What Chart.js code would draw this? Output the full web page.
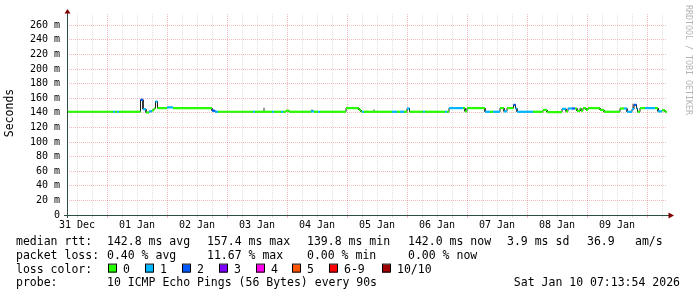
<!DOCTYPE html>
<html>
<head>
<meta charset="utf-8">
<script src="https://cdn.jsdelivr.net/npm/chart.js@4/dist/chart.umd.min.js"></script>
<style>
  html, body { margin: 0; padding: 0; background: #fff; }
  canvas { display: block; }
</style>
</head>
<body>
<canvas id="pingChart" width="697" height="297"></canvas>
<script>
// Smokeping style latency graph, x axis in hours since 31 Dec 08:00

const dayLabels = ['31 Dec', '01 Jan', '02 Jan', '03 Jan', '04 Jan', '05 Jan', '06 Jan', '07 Jan', '08 Jan', '09 Jan'];
const yTickValues = [0, 10, 20, 30, 40, 50, 60, 70, 80, 90, 100, 110, 120, 130, 140, 150, 160, 170, 180, 190, 200, 210, 220, 230, 240, 250, 260, 270];

// median rtt steps: hour where value starts, value (ms), lost pings out of 10
const stepHours = [0, 18.4, 19.2, 20, 20.8, 29.4, 30.4, 31.6, 32.8, 34, 34.8, 35.4, 36.2, 40, 42.4, 58, 59.2, 60.4, 74.4, 75.2,
  82, 82.8, 85.6, 86.4, 87.6, 88.8, 97.6, 98.8, 100.4, 101.2, 111.6, 116.8, 117.6, 118, 118.8, 130, 132, 133.2, 134.8, 136,
  137, 142.4, 143.2, 151.2, 152, 152.8, 158.4, 159.2, 160, 167.2, 169.2, 170.4, 173.2, 174.8, 176, 178.6, 179.4, 180, 186.4, 190.4,
  192, 198, 199.6, 200.4, 202, 203.2, 204, 205.2, 205.6, 206.4, 207.6, 208.4, 213.2, 214.8, 221.2, 222.8, 224, 226, 226.8, 227.8,
  228.2, 229.2, 231.2, 235.2, 236.4, 238, 239.2];
const medianMs = [141.5, 141.5, 141.5, 141.5, 141.5, 158, 145, 140.5, 142, 143.5, 146, 155.5, 146.5, 147.5, 146.5, 143, 141.5, 141.5, 141.5, 141.5,
  141.5, 141.5, 141.5, 141.5, 143, 141.5, 142, 141.5, 141.5, 141.5, 146.5, 144, 141.5, 141.5, 141.5, 141.5, 141.5, 141.5, 141.5, 146,
  141.5, 141.5, 141.5, 141.5, 141.5, 146.5, 146.5, 142, 146.5, 141.5, 141.5, 141.5, 146.5, 142, 146.5, 151, 146, 141.5, 141.5, 144,
  141, 145.5, 142, 146, 146, 146, 142.5, 146, 143, 146.5, 144, 146.5, 144, 141.5, 146, 146, 141.5, 145, 151, 146,
  141.5, 146.5, 146.5, 146.5, 142, 143.5, 141.5];
const lossCount = [0, 1, 0, 1, 0, 2, 1, 0, 1, 0, 0, 1, 0, 1, 0, 2, 1, 0, 1, 0,
  1, 0, 1, 0, 0, 0, 1, 0, 1, 0, 0, 0, 0, 1, 0, 1, 0, 1, 0, 1,
  0, 1, 0, 1, 0, 1, 0, 0, 0, 1, 0, 1, 0, 1, 0, 2, 1, 1, 0, 0,
  0, 1, 0, 1, 2, 0, 0, 0, 0, 0, 0, 0, 0, 0, 0, 1, 1, 1, 2, 1,
  0, 0, 1, 0, 1, 0, 0];
const endHour = 240;

// smoke (spread of the pings) where it shows
const smokeHours = [78.8, 98, 122.8, 226.4];
const smokeLow = [141.5, 142, 141.5, 144];
const smokeHigh = [147, 144.5, 144.5, 152.5];

const lossLabels = ['0', '1', '2', '3', '4', '5', '6-9', '10/10'];
const lossColors = ['#26ff00', '#00b8ff', '#0059ff', '#7e00ff', '#ff00ea', '#ff5500', '#ff0000', '#a10000'];

const rttStats = ['142.8 ms avg', '157.4 ms max', '139.8 ms min', '142.0 ms now', '3.9 ms sd', '36.9', 'am/s'];
const lossStats = ['0.40 % avg', '11.67 % max', '0.00 % min', '0.00 % now'];
const probeText = '10 ICMP Echo Pings (56 Bytes) every 90s';
const stampText = 'Sat Jan 10 07:13:54 2026';

const MONO = "'DejaVu Sans Mono', monospace";
const minorGrid = 'rgba(150,150,150,0.3)';
const majorGrid = 'rgba(220,50,50,0.33)';

function isMidnight(h) { return ((h - 16) % 24 + 24) % 24 === 0; }

// step corners for the dark risers
const riserPoints = [];
stepHours.forEach((h, i) => {
  if (i > 0) riserPoints.push({ x: h, y: medianMs[i - 1] });
  riserPoints.push({ x: h, y: medianMs[i] });
});
riserPoints.push({ x: endHour, y: medianMs[medianMs.length - 1] });

// flat pieces coloured by loss
const levelPoints = [];
stepHours.forEach((h, i) => {
  const next = i + 1 < stepHours.length ? stepHours[i + 1] : endHour;
  levelPoints.push({ x: h, y: medianMs[i], loss: lossCount[i] });
  levelPoints.push({ x: next, y: medianMs[i], loss: lossCount[i] });
  levelPoints.push({ x: next, y: null, loss: lossCount[i] });
});

const smokePoints = [];
smokeHours.forEach((h, i) => {
  smokePoints.push({ x: h, y: smokeLow[i] });
  smokePoints.push({ x: h, y: smokeHigh[i] });
  smokePoints.push({ x: h, y: null });
});

const rrdDecor = {
  id: 'rrdDecor',
  afterDraw(chart) {
    const ctx = chart.ctx;
    const { left, right, top, bottom } = chart.chartArea;
    const xs = chart.scales.x;
    ctx.save();

    // small tick marks under the x axis
    xs.ticks.forEach(t => {
      const px = Math.round(xs.getPixelForValue(t.value)) + 0.5;
      ctx.strokeStyle = isMidnight(t.value) ? majorGrid : minorGrid;
      ctx.beginPath();
      ctx.moveTo(px, bottom + 1);
      ctx.lineTo(px, bottom + 3);
      ctx.stroke();
    });

    // axes
    ctx.strokeStyle = '#2c4d43';
    ctx.lineWidth = 1;
    ctx.beginPath();
    ctx.moveTo(left + 0.5, bottom + 3);
    ctx.lineTo(left + 0.5, top - 2);
    ctx.moveTo(left - 3, bottom + 0.5);
    ctx.lineTo(right + 3, bottom + 0.5);
    ctx.stroke();

    // arrows
    ctx.fillStyle = '#7f0000';
    ctx.beginPath();
    ctx.moveTo(left - 2.5, top - 0.5);
    ctx.lineTo(left + 3.5, top - 0.5);
    ctx.lineTo(left + 0.5, top - 5);
    ctx.closePath();
    ctx.fill();
    ctx.beginPath();
    ctx.moveTo(right + 1.5, bottom - 2.5);
    ctx.lineTo(right + 1.5, bottom + 3.5);
    ctx.lineTo(right + 7, bottom + 0.5);
    ctx.closePath();
    ctx.fill();

    // y axis title
    ctx.fillStyle = '#000';
    ctx.font = '11.5px ' + MONO;
    ctx.textAlign = 'center';
    ctx.textBaseline = 'middle';
    ctx.save();
    ctx.translate(10.5, 113);
    ctx.rotate(-Math.PI / 2);
    ctx.fillText('Seconds', 0, 0);
    ctx.restore();

    // watermark
    ctx.save();
    ctx.fillStyle = '#b4b4b4';
    ctx.font = '8.3px ' + MONO;
    ctx.translate(688, 60);
    ctx.rotate(Math.PI / 2);
    ctx.fillText('RRDTOOL / TOBI OETIKER', 0, 0);
    ctx.restore();

    // legend block
    const cols = [107, 207, 307, 408, 507, 587, 635];
    const base = [245, 258.8, 272.6, 286.4];
    ctx.font = '11.5px ' + MONO;
    ctx.textAlign = 'left';
    ctx.textBaseline = 'alphabetic';
    ctx.fillStyle = '#000';
    ctx.fillText('median rtt:', 16, base[0]);
    rttStats.forEach((s, i) => ctx.fillText(s, cols[i], base[0]));
    ctx.fillText('packet loss:', 16, base[1]);
    lossStats.forEach((s, i) => ctx.fillText(s, cols[i], base[1]));
    ctx.fillText('loss color:', 16, base[2]);
    const boxX = [108, 145, 182, 219, 256, 292, 329, 382];
    lossLabels.forEach((lab, i) => {
      ctx.fillStyle = lossColors[i];
      ctx.fillRect(boxX[i], base[2] - 8, 8, 8);
      ctx.strokeStyle = '#000';
      ctx.strokeRect(boxX[i] + 0.5, base[2] - 8.5, 8, 8);
      ctx.fillStyle = '#000';
      ctx.fillText(lab, boxX[i] + 15, base[2]);
    });
    ctx.fillText('probe:', 16, base[3]);
    ctx.fillText(probeText, cols[0], base[3]);
    ctx.textAlign = 'right';
    ctx.fillText(stampText, 680, base[3]);

    ctx.restore();
  }
};

new Chart(document.getElementById('pingChart'), {
  type: 'line',
  data: {
    datasets: [
      {
        label: 'smoke',
        data: smokePoints,
        borderColor: '#9a9a9a',
        borderWidth: 2,
        pointRadius: 0,
        spanGaps: false,
        order: 3
      },
      {
        label: 'risers',
        data: riserPoints,
        borderColor: '#1e1e1e',
        borderWidth: 1,
        pointRadius: 0,
        tension: 0,
        order: 2
      },
      {
        label: 'median rtt',
        data: levelPoints,
        borderColor: lossColors[0],
        borderWidth: 2.2,
        pointRadius: 0,
        tension: 0,
        spanGaps: false,
        segment: {
          borderColor: c => lossColors[c.p0.raw.loss]
        },
        order: 1
      }
    ]
  },
  options: {
    responsive: false,
    animation: false,
    layout: { padding: { top: 14, right: 30, left: 0, bottom: 0 } },
    plugins: {
      legend: { display: false },
      tooltip: { enabled: false }
    },
    scales: {
      x: {
        type: 'linear',
        min: 0,
        max: endHour,
        offset: false,
        afterBuildTicks: s => {
          const t = [];
          for (let h = 4; h <= endHour; h += 6) t.push({ value: h });
          s.ticks = t;
        },
        afterFit: s => { s.height = 82; },
        grid: {
          offset: false,
          drawTicks: false,
          lineWidth: 1,
          color: c => isMidnight(c.tick.value) ? majorGrid : minorGrid
        },
        border: { display: false, dash: [1, 1] },
        ticks: {
          autoSkip: false,
          maxRotation: 0,
          padding: 4,
          color: '#000',
          font: { family: MONO, size: 10 },
          callback: v => ((v - 4) % 24 === 0 ? dayLabels[(v - 4) / 24] || '' : '')
        }
      },
      y: {
        type: 'linear',
        min: 0,
        max: 275.5,
        afterBuildTicks: s => { s.ticks = yTickValues.map(v => ({ value: v })); },
        afterFit: s => { s.width = 67; },
        grid: {
          drawTicks: false,
          lineWidth: 1,
          color: c => (c.tick.value === 0 ? 'rgba(0,0,0,0)' : (c.tick.value % 20 === 0 ? majorGrid : minorGrid))
        },
        border: { display: false, dash: [1, 1] },
        ticks: {
          padding: 7,
          color: '#000',
          font: { family: MONO, size: 10 },
          callback: v => (v % 20 === 0 ? (v === 0 ? '0' : v + ' m') : '')
        }
      }
    }
  },
  plugins: [rrdDecor]
});
</script>
</body>
</html>
